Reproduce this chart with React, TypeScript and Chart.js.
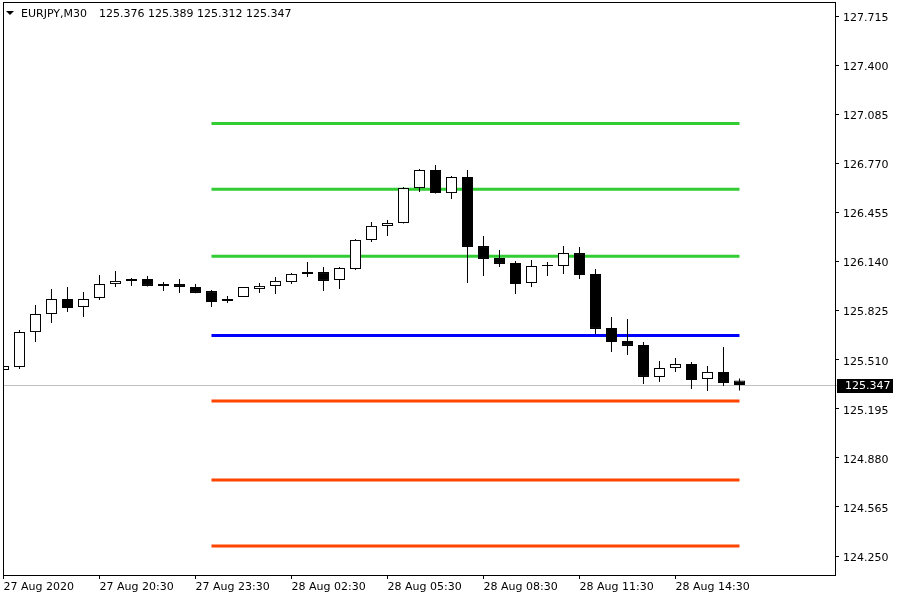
import React, { useEffect, useRef } from 'react';
import { Chart, registerables } from 'chart.js';

Chart.register(...registerables);

const FONT = 'DejaVu Sans';
const symbol = 'EURJPY,M30';

// 47 half-hour candles, 27 Aug 17:30 .. 28 Aug 16:30
const opens = [125.444, 125.463, 125.687, 125.803, 125.899, 125.848, 125.906, 125.995, 126.015, 126.028,
  125.995, 125.995, 125.976, 125.950, 125.899, 125.912, 125.963, 125.983, 126.008, 126.072,
  126.072, 126.021, 126.092, 126.278, 126.368, 126.387, 126.611, 126.727, 126.579, 126.682,
  126.239, 126.162, 126.130, 126.002, 126.117, 126.111, 126.194, 126.060, 125.713, 125.630,
  125.604, 125.399, 125.456, 125.482, 125.386, 125.431, 125.376];
const highs = [125.488, 125.700, 125.861, 125.963, 125.976, 125.944, 126.053, 126.079, 126.034, 126.047,
  126.008, 126.028, 125.995, 125.957, 125.918, 125.976, 126.002, 126.040, 126.066, 126.137,
  126.104, 126.104, 126.284, 126.393, 126.406, 126.618, 126.733, 126.759, 126.688, 126.727,
  126.303, 126.214, 126.143, 126.149, 126.137, 126.239, 126.233, 126.092, 125.784, 125.771,
  125.623, 125.501, 125.521, 125.495, 125.469, 125.591, 125.389];
const lows = [125.302, 125.450, 125.623, 125.745, 125.816, 125.784, 125.893, 125.976, 125.983, 125.980,
  125.950, 125.938, 125.936, 125.848, 125.873, 125.912, 125.938, 125.931, 125.995, 126.040,
  125.950, 125.963, 126.085, 126.265, 126.303, 126.384, 126.586, 126.576, 126.541, 126.002,
  126.047, 126.104, 125.931, 125.976, 126.047, 126.060, 126.028, 125.675, 125.559, 125.540,
  125.354, 125.367, 125.431, 125.322, 125.309, 125.341, 125.312];
const closes = [125.469, 125.687, 125.803, 125.899, 125.841, 125.899, 125.995, 126.015, 126.028, 125.983,
  125.983, 125.976, 125.938, 125.880, 125.886, 125.976, 125.983, 126.015, 126.060, 126.060,
  126.015, 126.098, 126.278, 126.368, 126.387, 126.611, 126.727, 126.579, 126.682, 126.233,
  126.156, 126.124, 125.995, 126.111, 126.111, 126.194, 126.053, 125.707, 125.623, 125.598,
  125.399, 125.456, 125.482, 125.379, 125.431, 125.360, 125.347];

// horizontal levels
const levelValues = [127.025, 126.603, 126.173, 125.665, 125.245, 124.738, 124.314];
const levelColors = ['#32CD32', '#32CD32', '#32CD32', '#0000FF', '#FF4500', '#FF4500', '#FF4500'];
const levelStart = 13;
const levelEnd = 46;

const xTickIndex = [0, 6, 12, 18, 24, 30, 36, 42];
const xTickLabels = ['27 Aug 2020', '27 Aug 20:30', '27 Aug 23:30', '28 Aug 02:30',
  '28 Aug 05:30', '28 Aug 08:30', '28 Aug 11:30', '28 Aug 14:30'];
const yTicks = [124.25, 124.565, 124.88, 125.195, 125.51, 125.825, 126.14, 126.455, 126.77, 127.085, 127.4, 127.715];

const Y_MIN = 124.1281;
const Y_MAX = 127.8049;
const X_MIN = -0.030625;
const X_MAX = 51.969375;

const overlay = {
  id: 'overlay',
  beforeDatasetsDraw(chart: any) {
    const { ctx, chartArea } = chart;
    const last = closes[closes.length - 1];
    const y = Math.round(chart.scales.y.getPixelForValue(last)) + 0.5;
    ctx.save();
    ctx.strokeStyle = '#C0C0C0';
    ctx.lineWidth = 1;
    ctx.beginPath();
    ctx.moveTo(chartArea.left, y);
    ctx.lineTo(chartArea.right + 2, y);
    ctx.stroke();
    ctx.restore();
  },
  afterDraw(chart: any) {
    const { ctx, chartArea } = chart;
    ctx.save();
    // frame
    ctx.strokeStyle = '#000';
    ctx.lineWidth = 1;
    ctx.strokeRect(chartArea.left + 0.5, chartArea.top + 0.5,
      chartArea.right - chartArea.left, chartArea.bottom - chartArea.top);
    // header
    ctx.fillStyle = '#000';
    ctx.beginPath();
    ctx.moveTo(6, 11);
    ctx.lineTo(14, 11);
    ctx.lineTo(10, 15);
    ctx.closePath();
    ctx.fill();
    ctx.font = `11px "${FONT}"`;
    ctx.textBaseline = 'alphabetic';
    ctx.textAlign = 'left';
    const n = closes.length - 1;
    ctx.fillText(symbol, 21, 17);
    ctx.fillText([opens[n], highs[n], lows[n], closes[n]].map((v) => v.toFixed(3)).join(' '), 99, 17);
    // current price box
    const last = closes[n];
    const y = Math.round(chart.scales.y.getPixelForValue(last));
    ctx.fillStyle = '#000';
    ctx.fillRect(837, y - 6, 56, 14);
    ctx.fillStyle = '#fff';
    ctx.textBaseline = 'middle';
    ctx.fillText(last.toFixed(3), 845, y + 1);
    ctx.restore();
  },
};

export default function App() {
  const ref = useRef<HTMLCanvasElement>(null);
  useEffect(() => {
    document.body.style.margin = '0';
    Chart.defaults.font.family = FONT;
    Chart.defaults.font.size = 11;
    Chart.defaults.color = '#000';
    const idx = opens.map((_, i) => i);
    const wickData = idx.map((i) => ({ x: i, y: [lows[i], highs[i]] }));
    const bodyData = idx.map((i) => ({ x: i, y: [opens[i], closes[i]] }));
    const bodyColors = idx.map((i) => (closes[i] >= opens[i] ? '#FFFFFF' : '#000000'));
    const levelSets = levelValues.map((v, k) => ({
      type: 'line' as const,
      data: [{ x: levelStart, y: v }, { x: levelEnd, y: v }],
      borderColor: levelColors[k],
      borderWidth: 3,
      pointRadius: 0,
      fill: false,
      order: 3,
    }));
    const chart = new Chart(ref.current!, {
      type: 'bar',
      data: {
        datasets: [
          {
            type: 'bar',
            data: bodyData as any,
            backgroundColor: bodyColors,
            borderColor: '#000',
            borderWidth: 1,
            borderSkipped: false,
            barThickness: 11,
            grouped: false,
            inflateAmount: 0,
            order: 1,
          } as any,
          {
            type: 'bar',
            data: wickData as any,
            backgroundColor: '#000',
            borderWidth: 0,
            barThickness: 1,
            grouped: false,
            inflateAmount: 0,
            order: 2,
          } as any,
          ...levelSets,
        ],
      },
      options: {
        animation: false,
        responsive: false,
        events: [],
        layout: { padding: { left: 3, top: 2, right: 0, bottom: 0 } },
        plugins: { legend: { display: false }, tooltip: { enabled: false } },
        scales: {
          x: {
            type: 'linear',
            min: X_MIN,
            max: X_MAX,
            offset: false,
            afterBuildTicks: (s: any) => { s.ticks = xTickIndex.map((v) => ({ value: v })); },
            afterFit: (s: any) => { s.height = 25; s.paddingLeft = 0; s.paddingRight = 0; },
            ticks: {
              callback: (_v: any, i: number) => xTickLabels[i],
              align: 'start',
              maxRotation: 0,
              autoSkip: false,
              color: '#000',
              padding: 2,
            },
            grid: { drawOnChartArea: false, drawTicks: true, tickLength: 4, color: '#000', offset: false },
            border: { display: true, color: '#000' },
          },
          y: {
            type: 'linear',
            position: 'right',
            min: Y_MIN,
            max: Y_MAX,
            beginAtZero: false,
            afterBuildTicks: (s: any) => { s.ticks = yTicks.map((v) => ({ value: v })); },
            afterFit: (s: any) => { s.width = 65; s.paddingTop = 0; s.paddingBottom = 0; },
            ticks: {
              callback: (v: any) => Number(v).toFixed(3),
              color: '#000',
              padding: 4,
              autoSkip: false,
              labelOffset: 2,
            },
            grid: { drawOnChartArea: false, drawTicks: true, tickLength: 4, color: '#000' },
            border: { display: true, color: '#000' },
          },
        },
      } as any,
      plugins: [overlay],
    });
    return () => chart.destroy();
  }, []);
  return (
    <div style={{ position: 'absolute', left: 0, top: 0, width: 900, height: 600, background: '#fff' }}>
      <canvas ref={ref} width={900} height={600} style={{ display: 'block', width: 900, height: 600 }} />
    </div>
  );
}
